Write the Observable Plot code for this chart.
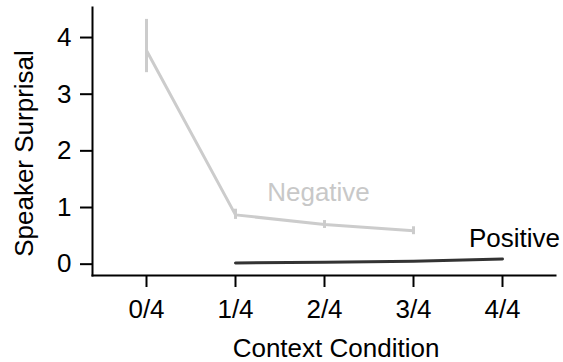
<!DOCTYPE html>
<html>
<head>
<meta charset="utf-8">
<script src="https://cdn.jsdelivr.net/npm/d3@7"></script>
<script src="https://cdn.jsdelivr.net/npm/@observablehq/plot@0.6"></script>
<style>
  html, body { margin: 0; padding: 0; background: #fff; }
  #chart svg { display: block; }
</style>
</head>
<body>
<div id="chart"></div>
<script>
const conditions = ["0/4", "1/4", "2/4", "3/4", "4/4"];

const negConditions = ["0/4", "1/4", "2/4", "3/4"];
const negValues = [3.77, 0.87, 0.70, 0.59];
const negLow = [3.38, 0.79, 0.63, 0.52];
const negHigh = [4.32, 0.97, 0.77, 0.66];

const posConditions = ["1/4", "2/4", "3/4", "4/4"];
const posValues = [0.02, 0.035, 0.05, 0.09];

const seriesLabels = ["Negative", "Positive"];
const labelConditions = ["2/4", "4/4"];
const labelValues = [1.27, 0.45];

const xTitle = "Context Condition";
const yTitle = "Speaker Surprisal";
const yTicks = [0, 1, 2, 3, 4];

const neg = negConditions.map((c, i) => ({cond: c, val: negValues[i], lo: negLow[i], hi: negHigh[i]}));
const pos = posConditions.map((c, i) => ({cond: c, val: posValues[i]}));
const labels = seriesLabels.map((s, i) => ({name: s, cond: labelConditions[i], val: labelValues[i]}));

const font = "'Liberation Sans', Arial, Helvetica, sans-serif";

const chart = Plot.plot({
  width: 563,
  height: 362,
  marginLeft: 92,
  marginRight: 8,
  marginTop: 7,
  marginBottom: 87,
  style: {fontFamily: font, color: "#000", background: "#fff", overflow: "visible"},
  x: {type: "point", domain: conditions, padding: 0.6},
  y: {domain: [-0.2, 4.53]},
  marks: [
    Plot.axisX({tickSize: 12, tickPadding: 12, fontSize: 26, strokeWidth: 2, label: null}),
    Plot.axisY({ticks: yTicks, tickFormat: d3.format("d"), tickSize: 12, tickPadding: 9, fontSize: 26, strokeWidth: 2, label: null}),
    Plot.frame({anchor: "bottom", stroke: "#000", strokeWidth: 2}),
    Plot.frame({anchor: "left", stroke: "#000", strokeWidth: 2}),
    Plot.ruleX(neg, {x: "cond", y1: "lo", y2: "hi", stroke: "#cccccc", strokeWidth: 3}),
    Plot.line(neg, {x: "cond", y: "val", stroke: "#cccccc", strokeWidth: 3}),
    Plot.line(pos, {x: "cond", y: "val", stroke: "#333333", strokeWidth: 3}),
    Plot.text(labels.slice(0, 1), {x: "cond", y: "val", text: "name", dx: -6, fill: "#c8c8c8", fontSize: 26}),
    Plot.text(labels.slice(1), {x: "cond", y: "val", text: "name", dx: 12, fill: "#000", fontSize: 26}),
    Plot.text([xTitle], {frameAnchor: "bottom", textAnchor: "middle", lineAnchor: "middle", dy: 73, dx: 12, fontSize: 26, fill: "#000"}),
    Plot.text([yTitle], {frameAnchor: "left", textAnchor: "middle", lineAnchor: "middle", rotate: -90, dx: -68, dy: 12, fontSize: 26, fill: "#000"})
  ]
});
document.getElementById("chart").appendChild(chart);
</script>
</body>
</html>
